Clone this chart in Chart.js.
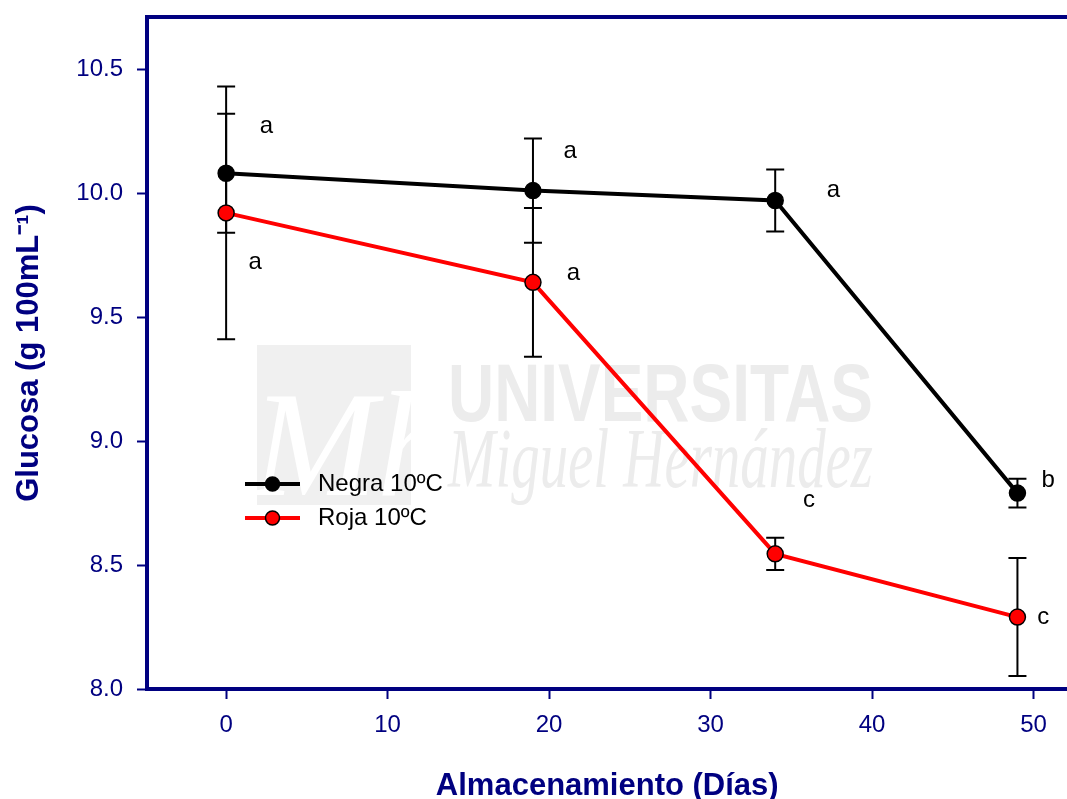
<!DOCTYPE html>
<html>
<head>
<meta charset="utf-8">
<script src="https://cdn.jsdelivr.net/npm/chart.js@4.4.1/dist/chart.umd.min.js"></script>
<style>
  html, body { margin: 0; padding: 0; background: #ffffff; overflow: hidden; }
  #wrap { position: relative; width: 1067px; height: 799px; overflow: hidden; }
</style>
</head>
<body>
<div id="wrap"><canvas id="c" width="1077" height="799"></canvas></div>
<script>
// ---- Data ----
const days = [0, 19, 34, 49];
const negra = [10.08, 10.01, 9.97, 8.79];
const negraErr = [0.24, 0.21, 0.125, 0.058];
const roja = [9.92, 9.64, 8.545, 8.29];
const rojaErr = [0.51, 0.30, 0.065, 0.238];
const seriesNames = ['Negra 10ºC', 'Roja 10ºC'];
const xTicks = [0, 10, 20, 30, 40, 50];
const yTicks = [8.0, 8.5, 9.0, 9.5, 10.0, 10.5];
// significance letters (placed in data coordinates)
const negraLetters = ['a', 'a', 'a', 'b'];
const negraLetterX = [2.5, 21.3, 37.6, 50.9];
const negraLetterY = [10.27, 10.17, 10.01, 8.84];
const rojaLetters = ['a', 'a', 'c', 'c'];
const rojaLetterX = [1.8, 21.5, 36.1, 50.6];
const rojaLetterY = [9.72, 9.675, 8.76, 8.29];

const NAVY = '#000080';
const FONT = "'Liberation Sans', Arial, sans-serif";

const errors = [negraErr, rojaErr];
const letters = [
  { t: negraLetters, x: negraLetterX, y: negraLetterY },
  { t: rojaLetters, x: rojaLetterX, y: rojaLetterY }
];

const bgPlugin = {
  id: 'bg',
  beforeDraw(chart) {
    const ctx = chart.ctx;
    ctx.save();
    ctx.fillStyle = '#ffffff';
    ctx.fillRect(0, 0, chart.width, chart.height);
    // watermark
    ctx.fillStyle = '#f0f0f0';
    ctx.fillRect(257, 345, 154, 160);
    ctx.fillStyle = '#ffffff';
    ctx.font = "italic 150px 'Liberation Serif', serif";
    ctx.textBaseline = 'alphabetic';
    ctx.save();
    ctx.beginPath(); ctx.rect(257, 345, 154, 160); ctx.clip();
    ctx.fillText('Mh', 252, 495);
    ctx.restore();
    ctx.fillStyle = '#ececec';
    ctx.font = "bold 81px " + FONT;
    let w = ctx.measureText('UNIVERSITAS').width;
    ctx.save();
    ctx.translate(448, 421);
    ctx.scale(425 / w, 1);
    ctx.fillText('UNIVERSITAS', 0, 0);
    ctx.restore();
    ctx.font = "italic 84px 'Liberation Serif', serif";
    w = ctx.measureText('Miguel Hernández').width;
    ctx.save();
    ctx.translate(448, 487);
    ctx.scale(425 / w, 1);
    ctx.fillText('Miguel Hernández', 0, 0);
    ctx.restore();
    ctx.restore();
  }
};

const errPlugin = {
  id: 'errbars',
  beforeDatasetsDraw(chart) {
    const ctx = chart.ctx;
    const xs = chart.scales.x, ys = chart.scales.y;
    ctx.save();
    ctx.strokeStyle = '#000000';
    ctx.lineWidth = 2;
    chart.data.datasets.forEach((ds, i) => {
      const err = errors[i];
      ds.data.forEach((p, j) => {
        const px = xs.getPixelForValue(p.x);
        const top = ys.getPixelForValue(p.y + err[j]);
        const bot = ys.getPixelForValue(p.y - err[j]);
        ctx.beginPath();
        ctx.moveTo(px, top); ctx.lineTo(px, bot);
        ctx.moveTo(px - 9, top); ctx.lineTo(px + 9, top);
        ctx.moveTo(px - 9, bot); ctx.lineTo(px + 9, bot);
        ctx.stroke();
      });
    });
    ctx.restore();
  },
  afterDatasetsDraw(chart) {
    const ctx = chart.ctx;
    const xs = chart.scales.x, ys = chart.scales.y, a = chart.chartArea;
    ctx.save();
    // letters
    ctx.fillStyle = '#000000';
    ctx.font = '24px ' + FONT;
    ctx.textAlign = 'center';
    ctx.textBaseline = 'middle';
    letters.forEach(L => {
      L.t.forEach((t, j) => {
        ctx.fillText(t, xs.getPixelForValue(L.x[j]), ys.getPixelForValue(L.y[j]));
      });
    });
    // top frame line
    ctx.strokeStyle = NAVY;
    ctx.lineWidth = 4;
    ctx.beginPath();
    ctx.moveTo(a.left - 2, a.top);
    ctx.lineTo(chart.width, a.top);
    ctx.stroke();
    // legend
    const lx0 = 245, lx1 = 300, rows = [484, 518];
    chart.data.datasets.forEach((ds, i) => {
      const y = rows[i];
      ctx.strokeStyle = ds.borderColor;
      ctx.lineWidth = 4;
      ctx.beginPath(); ctx.moveTo(lx0, y); ctx.lineTo(lx1, y); ctx.stroke();
      ctx.beginPath();
      ctx.arc((lx0 + lx1) / 2, y, 7, 0, Math.PI * 2);
      ctx.fillStyle = ds.pointBackgroundColor;
      ctx.fill();
      ctx.lineWidth = 1.5;
      ctx.strokeStyle = '#000000';
      ctx.stroke();
      ctx.fillStyle = '#000000';
      ctx.font = '24px ' + FONT;
      ctx.textAlign = 'left';
      ctx.fillText(ds.label, 318, y);
    });
    ctx.restore();
  }
};

new Chart(document.getElementById('c'), {
  type: 'line',
  data: {
    datasets: [
      {
        label: seriesNames[0],
        data: days.map((d, i) => ({ x: d, y: negra[i] })),
        borderColor: '#000000',
        borderWidth: 4,
        pointRadius: 8,
        pointBackgroundColor: '#000000',
        pointBorderColor: '#000000',
        pointBorderWidth: 1.5,
        tension: 0
      },
      {
        label: seriesNames[1],
        data: days.map((d, i) => ({ x: d, y: roja[i] })),
        borderColor: '#ff0000',
        borderWidth: 4,
        pointRadius: 8,
        pointBackgroundColor: '#ff0000',
        pointBorderColor: '#000000',
        pointBorderWidth: 1.5,
        tension: 0
      }
    ]
  },
  options: {
    responsive: false,
    animation: false,
    devicePixelRatio: 1,
    layout: { padding: { top: 17, left: 0, right: 0, bottom: 0 } },
    plugins: { legend: { display: false }, tooltip: { enabled: false } },
    scales: {
      x: {
        type: 'linear',
        min: -4.9,
        max: 52.1,
        afterBuildTicks: s => { s.ticks = xTicks.map(v => ({ value: v })); },
        afterFit: s => { s.height = 110; s.paddingLeft = 0; s.paddingRight = 0; },
        border: { display: true, color: NAVY, width: 4 },
        grid: { drawOnChartArea: false, drawTicks: true, tickLength: 10, tickColor: NAVY, tickWidth: 2 },
        ticks: { color: NAVY, font: { family: FONT, size: 24 }, padding: 12, maxRotation: 0 },
        title: { display: true, text: 'Almacenamiento (Días)', color: NAVY,
                 font: { family: FONT, size: 31, weight: 'bold' }, padding: { top: 0, bottom: -6 } }
      },
      y: {
        type: 'linear',
        min: 8.0,
        max: 10.71,
        afterBuildTicks: s => { s.ticks = yTicks.map(v => ({ value: v })); },
        afterFit: s => { s.width = 147; s.paddingTop = 0; s.paddingBottom = 0; },
        border: { display: true, color: NAVY, width: 4 },
        grid: { drawOnChartArea: false, drawTicks: true, tickLength: 10, tickColor: NAVY, tickWidth: 2 },
        ticks: { color: NAVY, font: { family: FONT, size: 24 }, padding: 14, callback: v => v.toFixed(1) },
        title: { display: true, text: 'Glucosa (g 100mL⁻¹)', color: NAVY,
                 font: { family: FONT, size: 31, weight: 'bold' }, padding: { top: 11, bottom: 0 } }
      }
    }
  },
  plugins: [bgPlugin, errPlugin]
});
</script>
</body>
</html>
